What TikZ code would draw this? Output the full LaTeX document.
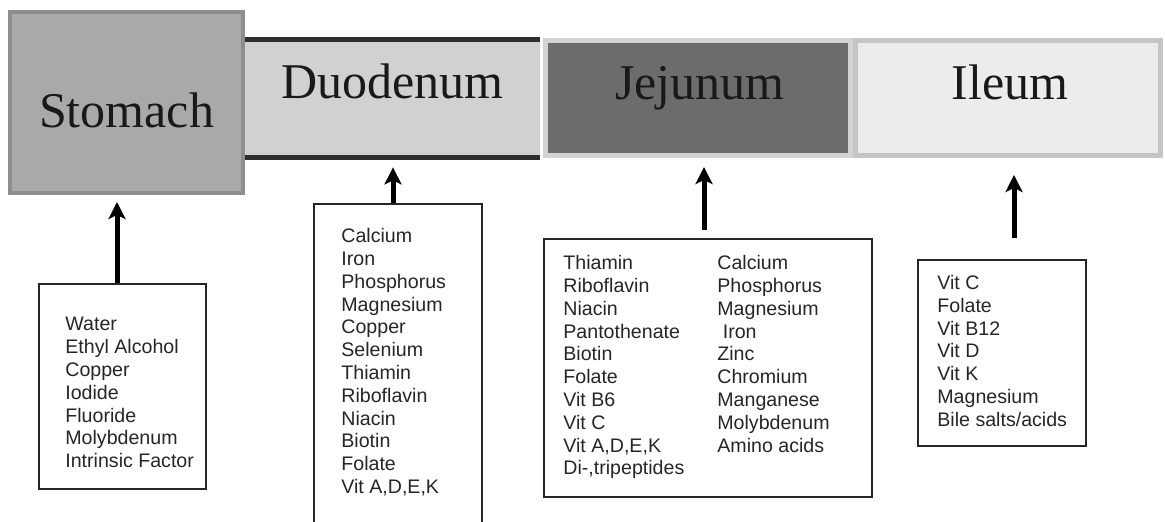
\documentclass[tikz,border=0pt]{standalone}
\usepackage{fontspec}
\setmainfont{Liberation Serif}
\setsansfont{Liberation Sans}
\usetikzlibrary{arrows.meta,positioning}
\definecolor{gastric}{HTML}{A9A9A9}
\definecolor{gastricrim}{HTML}{8E8E8E}
\definecolor{duofill}{HTML}{D1D1D1}
\definecolor{duorim}{HTML}{2E2E2E}
\definecolor{jejfill}{HTML}{6C6C6C}
\definecolor{jejrim}{HTML}{D3D3D3}
\definecolor{ilefill}{HTML}{ECECEC}
\definecolor{ilerim}{HTML}{C5C5C5}
\definecolor{ink}{HTML}{262626}
\tikzset{
  >={Stealth[length=8.5pt,width=8.5pt,inset=2pt]},
  segment/.style={fill=#1,inner sep=0pt},
  organ/.style={font=\fontsize{25}{30}\selectfont,inner sep=0pt,anchor=base,text=black!90},
  listbox/.style={draw=ink,line width=1pt,fill=white,inner sep=0pt},
  nutrients/.style={font=\sffamily\fontsize{9.8}{11.4}\selectfont,align=left,
    inner sep=0pt,anchor=north west,text=ink},
  feed/.style={->,line width=2.5pt,black},
}

\begin{document}
\begin{tikzpicture}[x=0.5pt,y=-0.5pt]
  \useasboundingbox (0,0) rectangle (1165,522);
  \clip (0,0) rectangle (1165,522);
  % gut segments
  \node[segment=gastric,draw=gastricrim,line width=2pt,minimum width=116.5pt,minimum height=90.5pt] (stomach) at (126.5,102.5) {};
  \node[segment=duofill,minimum width=147.5pt,minimum height=58.5pt] (duodenum) at (392.5,98.5) {};
  \draw[duorim,line width=2.5pt] (duodenum.north west) -- (duodenum.north east)
    (duodenum.south west) -- (duodenum.south east);
  \node[segment=jejfill,draw=jejrim,line width=2.5pt,minimum width=152.5pt,minimum height=57.5pt] (jejunum) at (698,98) {};
  \node[segment=ilefill,draw=ilerim,line width=2.5pt,minimum width=152.5pt,minimum height=57.5pt] (ileum) at (1008,98) {};
  \node[organ] (stomachlbl) at ([yshift=-12.75pt]stomach.center) {Stomach};
  \node[organ] (duodenumlbl) at (duodenum.center) {Duodenum};
  \node[organ] (jejunumlbl) at ([xshift=1pt,yshift=-1pt]jejunum.center) {Jejunum};
  \node[organ] (ileumlbl) at ([xshift=1pt,yshift=-1pt]ileum.center) {Ileum};
  % what is absorbed where
  \node[listbox,minimum width=83.5pt,minimum height=102.5pt] (sbox) at (122.5,386.5) {};
  \node[nutrients] (slist) at ([xshift=13.5pt,yshift=-17pt]sbox.north west)
    {Water\\Ethyl Alcohol\\Copper\\Iodide\\Fluoride\\Molybdenum\\Intrinsic Factor};
  \node[listbox,minimum width=84pt,minimum height=167.5pt] (dbox) at (398,371.5) {};
  \node[nutrients] (dlist) at ([xshift=14pt,yshift=-12.5pt]dbox.north west)
    {Calcium\\Iron\\Phosphorus\\Magnesium\\Copper\\Selenium\\Thiamin\\Riboflavin\\Niacin\\Biotin\\Folate\\Vit A,D,E,K};
  \node[listbox,minimum width=164pt,minimum height=129pt] (jbox) at (708,368) {};
  \node[nutrients] (jlist) at ([xshift=10pt,yshift=-8.5pt]jbox.north west)
    {Thiamin\\Riboflavin\\Niacin\\Pantothenate\\Biotin\\Folate\\Vit B6\\Vit C\\Vit A,D,E,K\\Di-,tripeptides};
  \node[nutrients] (jlistb) at ([xshift=87pt,yshift=-8.5pt]jbox.north west)
    {Calcium\\Phosphorus\\Magnesium\\\ Iron\\Zinc\\Chromium\\Manganese\\Molybdenum\\Amino acids};
  \node[listbox,minimum width=84pt,minimum height=93pt] (ibox) at (1002,353) {};
  \node[nutrients] (ilist) at ([xshift=10pt,yshift=-8pt]ibox.north west)
    {Vit C\\Folate\\Vit B12\\Vit D\\Vit K\\Magnesium\\Bile salts/acids};
  % arrows up to the segments
  \foreach \lst/\seg/\dx/\ga/\gb in {sbox/stomach/-5.5/0pt/3.5pt,dbox/duodenum/-5/0pt/5pt,
      jbox/jejunum/-4/4pt/4.5pt,ibox/ileum/12/10.5pt/8.5pt}
    \draw[feed,shorten <=\ga,shorten >=\gb] (\lst.north) ++(\dx,0) coordinate (f\seg) -- (f\seg |- \seg.south);
\end{tikzpicture}
\end{document}
